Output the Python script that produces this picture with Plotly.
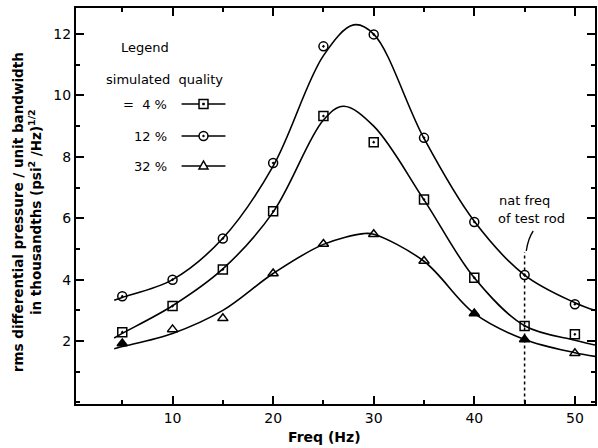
import plotly.graph_objects as go

# ---- data ----
freq = [5, 10, 15, 20, 25, 30, 35, 40, 45, 50]
q4_pts = [2.29, 3.14, 4.33, 6.23, 9.33, 8.48, 6.61, 4.06, 2.49, 2.22]
q12_pts = [3.46, 4.00, 5.34, 7.80, 11.60, 11.99, 8.62, 5.88, 4.15, 3.20]
q32_pts = [1.92, 2.38, 2.74, 4.20, 5.16, 5.48, 4.61, 2.90, 2.05, 1.60]

# hand-drawn fitted curves
c12_x = [4.2, 5, 10, 15, 20, 25, 28, 30, 35, 40, 45, 50, 52]
c12_y = [3.33, 3.42, 4.0, 5.35, 7.7, 11.3, 12.3, 12.0, 8.6, 5.9, 4.15, 3.25, 3.0]
c4_x = [4.2, 5, 10, 15, 20, 25, 27, 30, 35, 40, 45, 50, 52]
c4_y = [2.1, 2.25, 3.15, 4.35, 6.2, 9.2, 9.65, 9.0, 6.6, 4.06, 2.5, 2.03, 1.87]
c32_x = [4.2, 5, 10, 15, 20, 25, 29, 30, 35, 40, 45, 50, 52]
c32_y = [1.75, 1.82, 2.25, 3.0, 4.2, 5.15, 5.5, 5.48, 4.6, 2.9, 2.05, 1.62, 1.5]

nat_freq = 45
nat_freq_top = 4.9

x_ticks = [10, 20, 30, 40, 50]
y_ticks = [2, 4, 6, 8, 10, 12]

FONT = "DejaVu Sans"
W, H = 598, 448
ML, MR, MT, MB = 76, 1, 8, 44
PW, PH = W - ML - MR, H - MT - MB


def px(x, y):
    return (x - ML) / PW, (H - MB - y) / PH


fig = go.Figure()

line_style = dict(color="black", width=1.6, shape="spline", smoothing=1.0)
for cx, cy in [(c12_x, c12_y), (c4_x, c4_y), (c32_x, c32_y)]:
    fig.add_trace(go.Scatter(x=cx, y=cy, mode="lines", line=line_style,
                             hoverinfo="skip", showlegend=False))

mk = dict(color="black", size=9, line=dict(color="black", width=1.5))
tri_sym = ["triangle-up", "triangle-up-open", "triangle-up-open", "triangle-up-open",
           "triangle-up-open", "triangle-up-open", "triangle-up-open", "triangle-up",
           "triangle-up", "triangle-up-open"]
fig.add_trace(go.Scatter(x=freq, y=q4_pts, mode="markers", name="4 %",
                         marker=dict(mk, symbol="square-open-dot"), showlegend=False))
fig.add_trace(go.Scatter(x=freq, y=q12_pts, mode="markers", name="12 %",
                         marker=dict(mk, symbol="circle-open-dot"), showlegend=False))
fig.add_trace(go.Scatter(x=freq, y=q32_pts, mode="markers", name="32 %",
                         marker=dict(mk, symbol=tri_sym), showlegend=False))

# dotted natural-frequency line
fig.add_trace(go.Scatter(x=[nat_freq, nat_freq], y=[0, nat_freq_top], mode="lines",
                         line=dict(color="black", width=1.5, dash="dot"),
                         hoverinfo="skip", showlegend=False))

shapes = []
annotations = []


def ann(text, x, y, size=13, xanchor="left"):
    xx, yy = px(x, y)
    annotations.append(dict(text=text, x=xx, y=yy, xref="paper", yref="paper",
                            showarrow=False, xanchor=xanchor, yanchor="middle",
                            font=dict(family=FONT, size=size, color="black")))


ann("Legend", 119, 47, 13)
ann("simulated  quality", 104, 79, 13)
ann("=  4 %", 169, 104, 13, "right")
ann("12 %", 169, 136, 13, "right")
ann("32 %", 169, 166, 13, "right")

for yy in [104, 136, 166]:
    x0, y0 = px(182, yy)
    x1, _ = px(226, yy)
    shapes.append(dict(type="line", xref="paper", yref="paper", x0=x0, x1=x1, y0=y0, y1=y0,
                       line=dict(color="black", width=1.5)))

sx = 204
a0, b0 = px(sx - 4.5, 104 - 4.5)
a1, b1 = px(sx + 4.5, 104 + 4.5)
shapes.append(dict(type="rect", xref="paper", yref="paper", x0=a0, x1=a1, y0=b0, y1=b1,
                   fillcolor="white", line=dict(color="black", width=1.5)))
a0, b0 = px(sx - 1, 104 - 1)
a1, b1 = px(sx + 1, 104 + 1)
shapes.append(dict(type="rect", xref="paper", yref="paper", x0=a0, x1=a1, y0=b0, y1=b1,
                   fillcolor="black", line=dict(color="black", width=0.5)))
a0, b0 = px(sx - 4.5, 136 - 4.5)
a1, b1 = px(sx + 4.5, 136 + 4.5)
shapes.append(dict(type="circle", xref="paper", yref="paper", x0=a0, x1=a1, y0=b0, y1=b1,
                   fillcolor="white", line=dict(color="black", width=1.5)))
a0, b0 = px(sx - 1, 136 - 1)
a1, b1 = px(sx + 1, 136 + 1)
shapes.append(dict(type="circle", xref="paper", yref="paper", x0=a0, x1=a1, y0=b0, y1=b1,
                   fillcolor="black", line=dict(color="black", width=0.5)))
p1 = px(sx - 4.5, 169)
p2 = px(sx + 4.5, 169)
p3 = px(sx, 161)
shapes.append(dict(type="path", xref="paper", yref="paper",
                   path=f"M {p1[0]} {p1[1]} L {p2[0]} {p2[1]} L {p3[0]} {p3[1]} Z",
                   fillcolor="white", line=dict(color="black", width=1.5)))

# natural frequency note
ann("nat freq", 499, 200, 13)
ann("of test rod", 498, 218, 13)
q0 = px(535, 231)
q1 = px(528, 251)
shapes.append(dict(type="path", xref="paper", yref="paper",
                   path=f"M {q0[0]} {q0[1]} Q {px(530, 238)[0]} {px(530, 238)[1]} {q1[0]} {q1[1]}",
                   line=dict(color="black", width=1.3)))

# axis titles
xa, ya = px(27, 212)
annotations.append(dict(text="<b>rms differential pressure / unit bandwidth<br>"
                             "in thousandths (psi<sup>2</sup> /Hz)<sup>1/2</sup></b>",
                        x=xa, y=ya, xref="paper", yref="paper", showarrow=False,
                        textangle=-90, xanchor="center", yanchor="middle",
                        font=dict(family=FONT, size=13.5, color="black")))
xa, ya = px(325, 437)
annotations.append(dict(text="<b>Freq (Hz)</b>", x=xa, y=ya, xref="paper", yref="paper",
                        showarrow=False, xanchor="center", yanchor="middle",
                        font=dict(family=FONT, size=14, color="black")))

axis_common = dict(showline=True, linecolor="black", linewidth=2, mirror="allticks",
                   ticks="inside", ticklen=8, tickwidth=1.5, tickcolor="black",
                   showgrid=False, zeroline=False,
                   tickfont=dict(family=FONT, size=14, color="black"))

fig.update_layout(
    width=W, height=H,
    margin=dict(l=ML, r=MR, t=MT, b=MB),
    paper_bgcolor="white", plot_bgcolor="white",
    shapes=shapes, annotations=annotations,
    xaxis=dict(axis_common, range=[0.4, 52.0], tickvals=x_ticks,
               minor=dict(dtick=5, tick0=0, ticks="inside", ticklen=4, tickcolor="black", tickwidth=1.5)),
    yaxis=dict(axis_common, range=[-0.05, 12.85], tickvals=y_ticks,
               minor=dict(dtick=1, tick0=0, ticks="inside", ticklen=4, tickcolor="black", tickwidth=1.5)),
)

fig.write_html("out.html", config={"displayModeBar": False},
               post_script="document.body.style.margin='0px';")
